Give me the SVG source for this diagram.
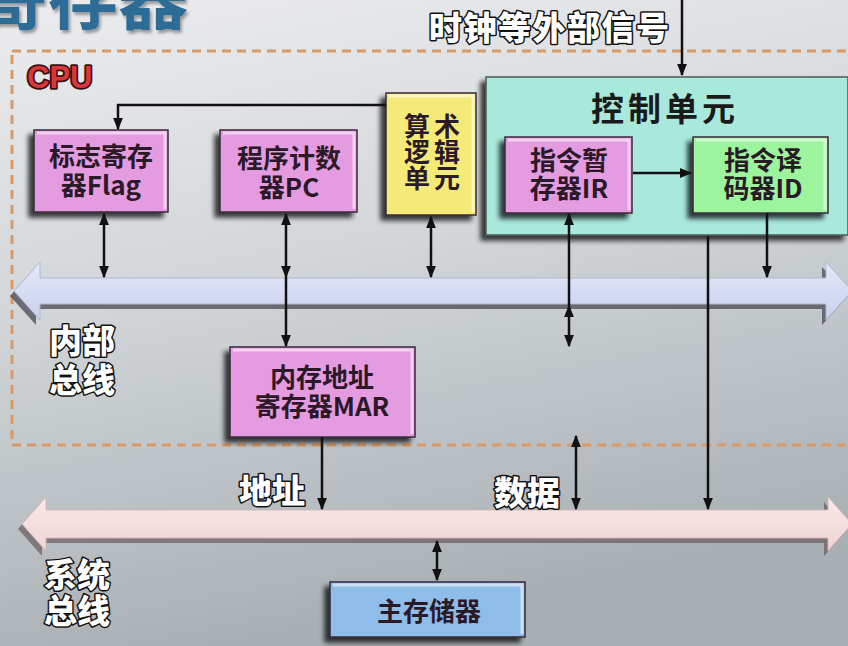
<svg xmlns="http://www.w3.org/2000/svg" width="848" height="646" viewBox="0 0 848 646">
<defs>
<linearGradient id="bg" x1="0" y1="0" x2="0.25" y2="1">
<stop offset="0" stop-color="#ececee"/>
<stop offset="0.45" stop-color="#d3d7da"/>
<stop offset="1" stop-color="#a9b0b4"/>
</linearGradient>
<linearGradient id="ibus" x1="0" y1="0" x2="0" y2="1">
<stop offset="0" stop-color="#e4e8fa"/>
<stop offset="1" stop-color="#c8d0ec"/>
</linearGradient>
<linearGradient id="sbus" x1="0" y1="0" x2="0" y2="1">
<stop offset="0" stop-color="#fbe8e8"/>
<stop offset="1" stop-color="#efd4d4"/>
</linearGradient>
<filter id="sh" x="-20%" y="-20%" width="140%" height="150%">
<feGaussianBlur in="SourceAlpha" stdDeviation="2.5"/>
<feOffset dx="-5" dy="5" result="b"/>
<feComponentTransfer><feFuncA type="linear" slope="0.75"/></feComponentTransfer>
<feMerge><feMergeNode/><feMergeNode in="SourceGraphic"/></feMerge>
</filter>
<filter id="tsh" x="-10%" y="-10%" width="120%" height="130%">
<feGaussianBlur in="SourceAlpha" stdDeviation="1.5"/>
<feOffset dx="2" dy="3"/>
<feComponentTransfer><feFuncA type="linear" slope="0.35"/></feComponentTransfer>
<feMerge><feMergeNode/><feMergeNode in="SourceGraphic"/></feMerge>
</filter>
<marker id="ah" viewBox="0 0 10 10" refX="9" refY="5" markerWidth="5" markerHeight="5" orient="auto-start-reverse" markerUnits="strokeWidth">
<path d="M0,1 L10,5 L0,9 Z" fill="#111"/>
</marker>
<style>
.cjk{font-family:"Noto Sans CJK SC","Noto Sans",sans-serif;font-weight:700;}
.box{stroke:#3a2a3a;stroke-width:1.5;}
.mag{fill:#e59be0;}
.yel{fill:#f5ea78;}
.grn{fill:#9cf59c;}
.blu{fill:#8fbdea;}
.cu{fill:#a8e9dc;stroke:#4a5a58;stroke-width:1.5;}
.hl{fill:none;stroke:#ffffff;stroke-opacity:0.55;stroke-width:3;}
.bt{font-size:26px;fill:#2a1a28;text-anchor:middle;}
.lbl{font-size:33px;font-weight:900;fill:#ffffff;stroke:#111;stroke-width:3;paint-order:stroke;stroke-linejoin:round;}
.ln{fill:none;stroke:#111;stroke-width:2.5;}
</style>
</defs>
<rect width="848" height="646" fill="url(#bg)"/>

<text class="cjk" x="-22" y="24" font-size="70" fill="#2e6c98" filter="url(#tsh)">寄存器</text>

<rect id="cpu-frame" x="12" y="51" width="850" height="394" fill="none" stroke="#d99a68" stroke-width="3" stroke-dasharray="9,6"/>
<text x="27" y="88" font-family="Liberation Sans, Arial, sans-serif" font-weight="700" font-size="31" fill="#d8373c" stroke="#3a1010" stroke-width="3.5" paint-order="stroke" stroke-linejoin="round">CPU</text>

<g id="internal-bus">
<path d="M14,291 L40,262 L40,278 L826,278 L826,262 L852,291 L826,320 L826,304 L40,304 L40,320 Z" fill="#50505a" transform="translate(-4,5)" opacity="0.8"/>
<path d="M14,291 L40,262 L40,278 L826,278 L826,262 L852,291 L826,320 L826,304 L40,304 L40,320 Z" fill="url(#ibus)" stroke="#b0b8d0" stroke-width="1"/>
</g>
<g id="system-bus">
<path d="M22,524 L46,497 L46,510 L828,510 L828,497 L852,524 L828,551 L828,538 L46,538 L46,551 Z" fill="#6a5a5e" transform="translate(-4,5)" opacity="0.7"/>
<path d="M22,524 L46,497 L46,510 L828,510 L828,497 L852,524 L828,551 L828,538 L46,538 L46,551 Z" fill="url(#sbus)" stroke="#d0b8b8" stroke-width="1"/>
</g>

<g id="control-unit">
<rect class="cu" x="486" y="77" width="362" height="158" filter="url(#sh)"/>
<text class="cjk" x="665" y="121" font-size="33" letter-spacing="4" text-anchor="middle" fill="#1a1a1a">控制单元</text>
</g>

<g id="flag">
<rect class="box mag" x="34" y="130" width="134" height="82" filter="url(#sh)"/>
<path class="hl" d="M37,133 H165 V209"/>
<text class="cjk bt" x="101" y="166" font-size="27">标志寄存</text>
<text class="cjk bt" x="101" y="195" font-size="27">器Flag</text>
</g>
<g id="pc">
<rect class="box mag" x="220" y="130" width="137" height="82" filter="url(#sh)"/>
<path class="hl" d="M223,133 H354 V209"/>
<text class="cjk bt" x="289" y="168" font-size="27">程序计数</text>
<text class="cjk bt" x="289" y="197" font-size="27">器PC</text>
</g>
<g id="alu">
<rect class="box yel" x="386" y="93" width="90" height="122" filter="url(#sh)"/>
<path class="hl" d="M389,96 H473 V212"/>
<text class="cjk bt" x="434" y="136" font-size="23" letter-spacing="4">算术</text>
<text class="cjk bt" x="434" y="162" font-size="23" letter-spacing="4">逻辑</text>
<text class="cjk bt" x="434" y="188" font-size="23" letter-spacing="4">单元</text>
</g>
<g id="ir">
<rect class="box mag" x="505" y="137" width="127" height="76" filter="url(#sh)"/>
<path class="hl" d="M508,140 H629 V210"/>
<text class="cjk bt" x="569" y="170">指令暂</text>
<text class="cjk bt" x="569" y="198">存器IR</text>
</g>
<g id="id">
<rect class="box grn" x="693" y="137" width="135" height="76" filter="url(#sh)"/>
<path class="hl" d="M696,140 H825 V210"/>
<text class="cjk bt" x="763" y="170">指令译</text>
<text class="cjk bt" x="763" y="198">码器ID</text>
</g>
<g id="mar">
<rect class="box mag" x="230" y="347" width="185" height="90" filter="url(#sh)"/>
<path class="hl" d="M233,350 H412 V434"/>
<text class="cjk bt" x="322" y="387" font-size="27">内存地址</text>
<text class="cjk bt" x="322" y="416" font-size="27">寄存器MAR</text>
</g>
<g id="main-memory">
<rect class="box blu" x="330" y="582" width="195" height="55" filter="url(#sh)"/>
<path class="hl" d="M333,585 H522 V634"/>
<text class="cjk bt" x="429" y="621" font-size="29">主存储器</text>
</g>

<g id="labels">
<text class="cjk lbl" x="429" y="40" letter-spacing="1.5">时钟等外部信号</text>
<text class="cjk lbl" x="49" y="353">内部</text>
<text class="cjk lbl" x="49" y="392">总线</text>
<text class="cjk lbl" x="239" y="503" font-size="35">地址</text>
<text class="cjk lbl" x="494" y="505" font-size="35">数据</text>
<text class="cjk lbl" x="44" y="587" font-size="35">系统</text>
<text class="cjk lbl" x="44" y="623" font-size="35">总线</text>
</g>

<g id="connectors">
<path class="ln" d="M682,0 V75" marker-end="url(#ah)"/>
<path class="ln" d="M386,105 H118 V129" marker-end="url(#ah)"/>
<path class="ln" d="M104,214 V277" marker-start="url(#ah)" marker-end="url(#ah)"/>
<path class="ln" d="M286,214 V277" marker-start="url(#ah)" marker-end="url(#ah)"/>
<path class="ln" d="M286,277 V346" marker-end="url(#ah)"/>
<path class="ln" d="M431,217 V277" marker-start="url(#ah)" marker-end="url(#ah)"/>
<path class="ln" d="M569,214 V306" marker-start="url(#ah)"/>
<path class="ln" d="M569,306 V346" marker-start="url(#ah)" marker-end="url(#ah)"/>
<path class="ln" d="M633,173 H691" marker-end="url(#ah)"/>
<path class="ln" d="M767,213 V277" marker-end="url(#ah)"/>
<path class="ln" d="M708,236 V509" marker-end="url(#ah)"/>
<path class="ln" d="M322,437 V509" marker-end="url(#ah)"/>
<path class="ln" d="M576,436 V509" marker-start="url(#ah)" marker-end="url(#ah)"/>
<path class="ln" d="M437,541 V580" marker-start="url(#ah)" marker-end="url(#ah)"/>
</g>
</svg>
